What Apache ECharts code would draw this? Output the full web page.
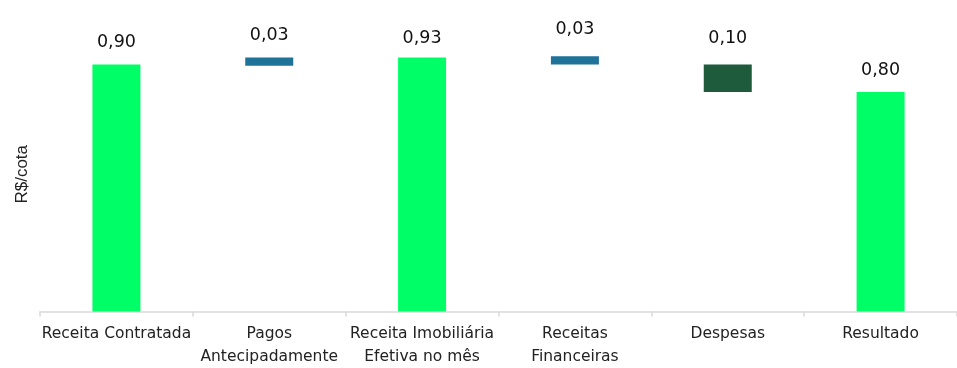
<!DOCTYPE html>
<html>
<head>
<meta charset="utf-8">
<script src="https://cdn.jsdelivr.net/npm/echarts@6/dist/echarts.min.js"></script>
<style>
html,body{margin:0;padding:0;background:#fff;}
#chart{width:957px;height:368px;}
</style>
</head>
<body>
<div id="chart"></div>
<script>
const categories = ['Receita Contratada', 'Pagos\nAntecipadamente', 'Receita Imobiliária\nEfetiva no mês', 'Receitas\nFinanceiras', 'Despesas', 'Resultado'];
const baseValues = [0, 0.895, 0, 0.90, 0.80, 0];
const barValues = [0.90, 0.03, 0.925, 0.03, 0.10, 0.80];
const valueLabels = ['0,90', '0,03', '0,93', '0,03', '0,10', '0,80'];

const barColors = ['#00FF66', '#1F7399', '#00FF66', '#1F7399', '#1E5A3C', '#00FF66'];
const labelNudge = [0, 0, 2.5, -4.5, -3.5, 1];

const chart = echarts.init(document.getElementById('chart'), null, {renderer: 'canvas'});
chart.setOption({
  animation: false,
  backgroundColor: '#ffffff',
  grid: {left: 40, width: 920, top: 37, bottom: 53, containLabel: false},
  xAxis: {
    type: 'category',
    data: categories,
    axisLine: {show: true, lineStyle: {color: '#d9d9d9', width: 1.5}},
    axisTick: {show: true, length: 5, lineStyle: {color: '#d9d9d9', width: 1.5}},
    axisLabel: {
      interval: 0,
      color: '#222222',
      fontFamily: 'DejaVu Sans',
      fontSize: 15.5,
      lineHeight: 23,
      margin: 10.5
    }
  },
  yAxis: {
    type: 'value',
    min: 0,
    max: 1,
    name: 'R$/cota',
    nameLocation: 'middle',
    nameGap: 9,
    nameTextStyle: {color: '#222222', fontFamily: 'Liberation Sans', fontSize: 17},
    axisLine: {show: false},
    axisTick: {show: false},
    axisLabel: {show: false},
    splitLine: {show: false}
  },
  series: [
    {
      type: 'bar',
      stack: 'wf',
      barWidth: 48,
      itemStyle: {color: 'rgba(0,0,0,0)'},
      emphasis: {disabled: true},
      data: baseValues
    },
    {
      type: 'bar',
      stack: 'wf',
      barWidth: 48,
      data: barValues.map((v, i) => ({
        value: v,
        itemStyle: {color: barColors[i]},
        label: {offset: [0, labelNudge[i]]}
      })),
      label: {
        show: true,
        position: 'top',
        distance: 13,
        color: '#111111',
        fontFamily: 'DejaVu Sans',
        fontSize: 17.5,
        formatter: p => valueLabels[p.dataIndex]
      }
    }
  ]
});
</script>
</body>
</html>
